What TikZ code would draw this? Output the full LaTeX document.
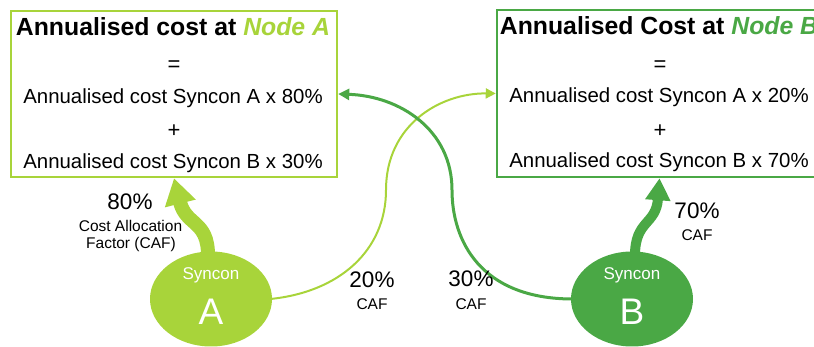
\documentclass[tikz,border=0pt]{standalone}
\usepackage{fontspec}
\setmainfont{Liberation Sans}
\usetikzlibrary{arrows.meta,shapes.geometric,calc,backgrounds}
\definecolor{lg}{HTML}{A8D43A}
\definecolor{dg}{HTML}{4AA845}
\begin{document}
\begin{tikzpicture}[x=1pt,y=-1pt,
  box/.style={draw, line width=2.5pt, fill=white, inner sep=0, minimum width=326pt},
  tt/.style={font=\fontsize{24.8}{26}\selectfont\bfseries, inner sep=0, anchor=base},
  body/.style={font=\fontsize{20.4}{22}\selectfont, inner sep=0, anchor=base},
  sym/.style={font=\fontsize{22}{24}\selectfont, inner sep=0, anchor=center},
  pct/.style={font=\fontsize{22.5}{24}\selectfont, inner sep=0, anchor=base},
  small/.style={font=\fontsize{15.5}{17}\selectfont, inner sep=0, anchor=base},
  syn/.style={ellipse, inner sep=0, minimum width=122pt, minimum height=95pt},
  syntxt/.style={font=\fontsize{17}{18}\selectfont, text=white, inner sep=0, anchor=base},
  synlet/.style={font=\fontsize{37}{38}\selectfont, text=white, inner sep=0, anchor=base}]
\useasboundingbox (0,0) rectangle (814,347);
% boxes
\node[box, draw=lg, minimum height=166pt] (boxA) at (174,94) {};
\node[box, draw=dg, minimum width=325pt, minimum height=167pt] (boxB) at (659.5,93.5) {};
% box A text
\node[tt] (tA1) at (173,36) {Annualised cost at \textcolor{lg}{\itshape Node A}};
\node[sym] (tA2) at (174,66) {=};
\node[body] (tA3) at (173,104) {Annualised cost Syncon A x 80\%};
\node[sym] (tA4) at (174,131) {+};
\node[body] (tA5) at (173,169) {Annualised cost Syncon B x 30\%};
% box B text
\node[tt] (tB1) at (659,35) {Annualised Cost at \textcolor{dg}{\itshape Node B}};
\node[sym] (tB2) at (660,66) {=};
\node[body] (tB3) at (659,103) {Annualised cost Syncon A x 20\%};
\node[sym] (tB4) at (660,131) {+};
\node[body] (tB5) at (659,168) {Annualised cost Syncon B x 70\%};
% syncons
\node[syn, fill=lg] (ellA) at (211,299) {};
\node[syn, fill=dg] (ellB) at (632,299) {};
\node[syntxt] (sA1) at (211,280) {Syncon};
\node[synlet] (sA2) at (211,325) {A};
\node[syntxt] (sB1) at (632,280) {Syncon};
\node[synlet] (sB2) at (632,324) {B};
% connectors
\begin{scope}[on background layer]
\draw[lg, line width=14pt, -{Triangle[width=30pt,length=26pt]}]
  ($(ellA.north)+(-3,4)$) .. controls (208,220) and (186,226) .. (boxA.south);
\draw[dg, line width=10pt, -{Triangle[width=24pt,length=22pt]}]
  ($(ellB.north)+(3,4)$) .. controls (635,220) and (656,225) .. (boxB.south);
\draw[lg, line width=2pt, -{Triangle[width=10pt,length=10pt]}]
  ($(ellA.east)+(-2,0)$) .. controls (340,292) and (386,250) .. (386,190)
  .. controls (386,125) and (440,93) .. (boxB.west);
\draw[dg, line width=3pt, -{Triangle[width=11pt,length=11pt]}]
  ($(ellB.west)+(2,0)$) .. controls (480,299) and (452,240) .. (452,190)
  .. controls (452,130) and (400,96) .. (boxA.east);
\end{scope}
% labels
\node[pct] (l80) at (130,210) {80\%};
\node[small] (l80a) at (130.5,232) {Cost Allocation};
\node[small] (l80b) at (131,249) {Factor (CAF)};
\node[pct] (l20) at (372,288) {20\%};
\node[small] (l20a) at (372,310) {CAF};
\node[pct] (l30) at (471,287) {30\%};
\node[small] (l30a) at (471,310) {CAF};
\node[pct] (l70) at (697,219) {70\%};
\node[small] (l70a) at (697,241) {CAF};
\end{tikzpicture}
\end{document}
